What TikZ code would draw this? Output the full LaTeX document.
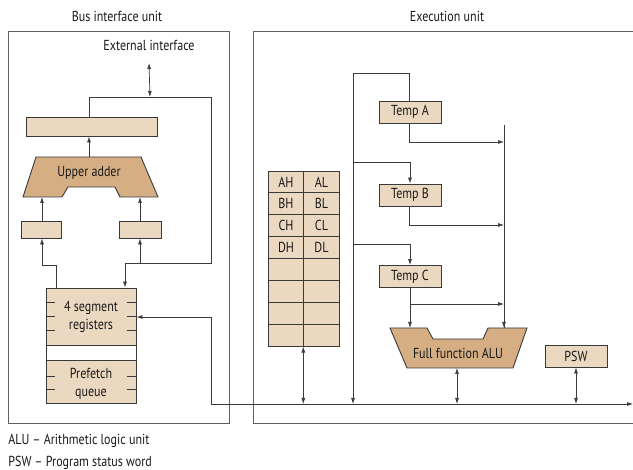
\documentclass[tikz,border=0pt]{standalone}
\usepackage{fontspec}
\setmainfont{PT Sans}[FakeStretch=0.83]
\usetikzlibrary{arrows.meta,calc}
\definecolor{lightfill}{HTML}{EBD8C0}
\definecolor{darkfill}{HTML}{D5AE84}
\definecolor{edge}{HTML}{3A3A3A}
\begin{document}
\begin{tikzpicture}[x=1pt,y=-1pt,
  font=\fontsize{14.5}{15}\selectfont,
  line width=0.8pt,
  >={Latex[length=6pt,width=4pt]},
  wire/.style={draw=edge,line width=0.7pt},
  regbox/.style={draw=edge,fill=lightfill,line width=0.9pt,inner sep=0pt,minimum width=#1},
  regbox/.default=62pt,
  frame/.style={draw=edge!80,line width=0.9pt},
  lbl/.style={inner sep=0pt,text=black!90}
]
\useasboundingbox (0,0) rectangle (633,470);
% titles
\node[lbl] (tbiu) at (117,16) {Bus interface unit};
\node[lbl] (teu) at (447,16) {Execution unit};
% frames
\draw[frame] (8,31) rectangle (229,423);
\draw[frame] (633,31) -- (253,31) -- (253,423) -- (633,423);
% ---------- BIU ----------
\node[lbl] (ext) at (149,45) {External interface};
\node[regbox=131pt,minimum height=19pt] (bar) at (91.5,126.5) {};
\node[regbox=40pt,minimum height=17pt] (sl) at (41,229.5) {};
\node[regbox=42pt,minimum height=17pt] (sr) at (140,229.5) {};
% upper adder
\draw[draw=edge,fill=darkfill,line width=0.9pt]
  (36,157) -- (141,157) -- (158,197) -- (120,197) -- (115,187) -- (68,187) -- (62,197) -- (23,197) -- cycle;
\node[lbl] (adder) at (89,173) {Upper adder};
\coordinate (addtop) at (89,157);
\coordinate (addl) at (42,197);
\coordinate (addr) at (140,197);
% segment registers + prefetch
\draw[draw=edge,fill=white,line width=0.9pt] (46,288) rectangle (136,403);
\node[regbox=90pt,minimum height=57pt] (seg) at (91,316.5) {};
\node[regbox=90pt,minimum height=43pt] (pre) at (91,381.5) {};
\node[lbl,align=center] (segt) at (91,317) {4 segment\\[3pt]registers};
\node[lbl,align=center] (pret) at (91,384) {Prefetch\\[3pt]queue};
\foreach \y in {302,316,330,376,389}{
  \draw[wire] (46,\y) -- (55,\y);
  \draw[wire] (127,\y) -- (136,\y);
}
% BIU connectors
\coordinate (j1) at (150,97);
\coordinate (jr) at (211,97);
\coordinate (jd) at (211,263);
\coordinate (jb) at (211,317);
\coordinate (busl) at (211,404);
\coordinate (busr) at (633,404);
\draw[wire,<->] (ext.south |- 0,63) -- (j1);
\draw[wire] (bar.north -| 89,0) |- (jr) -- (jd) -- (125,263);
\draw[wire,->] (125,263) -- (seg.north -| 125,0);
\draw[wire,->] (addtop) -- (bar.south -| addtop);
\draw[wire,->] (sl.north -| addl) -- (addl);
\draw[wire,->] (sr.north -| addr) -- (addr);
\draw[wire,->] (seg.north -| 56,0) |- (42,265) -- (sl.south -| 42,0);
\draw[wire,->] (140,263) -- (sr.south -| 140,0);
\draw[wire,->] (jb) -- (seg.east |- jb);
\draw[wire,->] (jb) -- (busl) -- (busr);
% ---------- EU ----------
% register file
\foreach \r/\a/\b in {0/AH/AL,1/BH/BL,2/CH/CL,3/DH/DL,4//,5//,6//,7//}{
  \node[regbox=35.5pt,minimum height=21.875pt,text=black!90] (rh\r) at (286,{182+21.875*\r}) {\a};
  \node[regbox=35.5pt,minimum height=21.875pt,text=black!90] (rl\r) at (321.5,{182+21.875*\r}) {\b};
}
\node[regbox,minimum height=22pt,text=black!90] (ta) at (410,112) {Temp A};
\node[regbox,minimum height=22pt,text=black!90] (tb) at (410,195) {Temp B};
\node[regbox,minimum height=22pt,text=black!90] (tc) at (410,276.5) {Temp C};
\node[regbox,minimum height=22pt,text=black!90] (psw) at (576,356) {PSW};
% ALU
\draw[draw=edge,fill=darkfill,line width=0.9pt]
  (390,328) -- (427,328) -- (433,339) -- (483,339) -- (488,328) -- (527,328) -- (513,368) -- (407,368) -- cycle;
\node[lbl] (alu) at (458,353) {Full function ALU};
\coordinate (alubot) at (457,368);
\coordinate (alutl) at (410,328);
\coordinate (alutr) at (504,328);
% EU connectors
\coordinate (v1) at (353,73);
\coordinate (v2) at (353,162);
\coordinate (v3) at (353,244);
\draw[wire,<->] (rl7.south west) -- (rl7.south west |- busr);
\draw[wire,->] (ta.north -| 409,0) |- (v1) -- (v1 |- busr);
\draw[wire,->] (v2) -| (tb.north -| 410,0);
\draw[wire,->] (v3) -| (tc.north -| 410,0);
\draw[wire] (504,125) -- (alutr);
\draw[wire,->] (504,320) -- (alutr);
\draw[wire,->] (ta.south -| 409,0) |- (504,142);
\draw[wire,->] (tb.south -| 409,0) |- (504,225);
\draw[wire,->] (tc.south -| 410,0) |- (504,304);
\draw[wire,->] (410,300) -- (alutl);
\draw[wire,<->] (alubot) -- (alubot |- busr);
\draw[wire,<->] (psw.south) -- (psw.south |- busr);
% legend
\node[lbl,anchor=west] (l1) at (8,441) {ALU – Arithmetic logic unit};
\node[lbl,anchor=west] (l2) at (8,463) {PSW – Program status word};
\end{tikzpicture}
\end{document}
